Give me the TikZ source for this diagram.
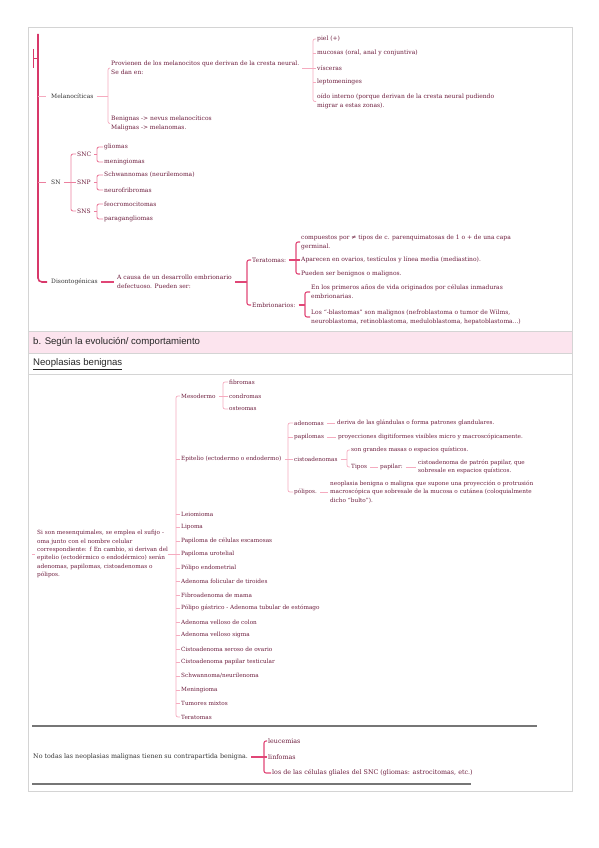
\documentclass[tikz,border=0pt]{standalone}
\usepackage{fontspec}
\setmainfont{DejaVu Serif}
\newfontfamily\bandfont{Liberation Sans}
\usetikzlibrary{calc}
\definecolor{TxtMaroon}{HTML}{6C1C3C}
\definecolor{TxtGray}{HTML}{333333}
\definecolor{PinkLight}{HTML}{F5ABBF}
\definecolor{PinkMid}{HTML}{EC809F}
\definecolor{PinkStrong}{HTML}{E04676}
\definecolor{PinkDeep}{HTML}{D8386A}
\definecolor{BandPink}{HTML}{FCE4EE}
\definecolor{FrameGray}{HTML}{D4D4D4}
\definecolor{RuleGray}{HTML}{767676}

\begin{document}
\begin{tikzpicture}[
    x=1pt, y=-1pt,
    every node/.style={inner sep=0pt, anchor=west, align=left, text=TxtMaroon, font=\fontsize{6.0}{8.8}\selectfont},
    lab/.style={text=TxtGray},
    benign/.style={font=\fontsize{5.75}{8.3}\selectfont},
    bottomtxt/.style={font=\fontsize{6.35}{9}\selectfont},
    bandtxt/.style={font=\bandfont\fontsize{9.6}{12}\selectfont, text=black!85},
    lnk/.style={draw=PinkLight, line width=0.7pt, rounded corners=2pt, shorten <=0.8pt, shorten >=0.8pt},
    lnkmid/.style={lnk, draw=PinkMid, line width=0.9pt},
    lnkstrong/.style={lnk, draw=PinkStrong, line width=1.1pt},
    up/.style={shorten <=3pt, shorten >=0pt},
    tick/.style={shorten <=0pt, shorten >=1pt},
    link/.style={shorten <=3pt, shorten >=2pt},
    mainbr/.style={draw=PinkDeep, line width=1.6pt, rounded corners=4pt},
    framerule/.style={draw=FrameGray, line width=0.7pt},
    seprule/.style={draw=RuleGray, line width=1.4pt}
  ]
    \useasboundingbox (0,0) rectangle (599,848);

    % frame and section band
    \fill[BandPink] (28,331) rectangle (572,353);
    \draw[framerule] (28,27) rectangle (572,791);
    \draw[framerule] (28,331) -- (572,331);
    \draw[framerule] (28,353) -- (572,353);
    \draw[framerule] (28,374) -- (572,374);

    % main bracket
    \coordinate (mtop) at (38,34);
    \coordinate (htop) at (33,49);
    \coordinate (hbot) at (33,68);
    \coordinate (hmid) at (33,58);
    \node[lab] (mel) at (51,96) {Melanocíticas};
    \node[lab] (sn) at (51,182) {SN};
    \node[lab] (dis) at (51,282) {Disontogénicas};
    \draw[mainbr, shorten >=4pt] (mtop) |- (dis.west);
    \draw[mainbr, line width=0.9pt] (htop) -- (hbot);
    \draw[mainbr, line width=0.9pt] (hmid) -- (hmid -| mtop);
    \draw[lnk, tick, shorten >=5pt] (mel.west -| mtop) -- (mel.west);
    \draw[lnkmid, tick, shorten >=5pt] (sn.west -| mtop) -- (sn.west);

    % Melanociticas
    \node (prov) at (111,68) {Provienen de los melanocitos que derivan de la cresta neural.\\Se dan en:};
    \node (benig) at (111,123.5) {Benignas -> nevus melanocíticos\\Malignas -> melanomas.};
    \coordinate (bmel) at (108,96);
    \draw[lnk, up] (mel.east) -- (bmel);
    \draw[lnk] (prov.west) -| (bmel) |- (benig.west);

    \node (piel) at (317,39) {piel (+)};
    \node (muc) at (317,53) {mucosas (oral, anal y conjuntiva)};
    \node (visc) at (317,68) {vísceras};
    \node (lepto) at (317,82) {leptomeninges};
    \node (oido) at (317,101.5) {oído interno (porque derivan de la cresta neural pudiendo\\migrar a estas zonas).};
    \coordinate (bpiel) at (313,68);
    \draw[lnk, up] (prov.east) -- (bpiel);
    \draw[lnk] (piel.west) -| (bpiel) |- (oido.west);
    \draw[lnk, tick] (muc.west -| bpiel) -- (muc.west);
    \draw[lnk, tick] (bpiel) -- (visc.west);
    \draw[lnk, tick] (lepto.west -| bpiel) -- (lepto.west);

    % SN
    \node (snc) at (77,154) {SNC};
    \node (snp) at (77,182) {SNP};
    \node (sns) at (77,211) {SNS};
    \coordinate (bsn) at (71,182);
    \draw[lnkmid, up] (sn.east) -- (bsn);
    \draw[lnkmid] (snc.west) -| (bsn) |- (sns.west);
    \draw[lnkmid, tick] (bsn) -- (snp.west);

    \node (glio) at (104,147) {gliomas};
    \node (meni) at (104,162) {meningiomas};
    \coordinate (bsnc) at (97,154);
    \draw[lnkmid, up] (snc.east) -- (bsnc);
    \draw[lnkmid] (glio.west) -| (bsnc) |- (meni.west);

    \node (schw) at (104,175) {Schwannomas (neurilemoma)};
    \node (neurof) at (104,190) {neurofribromas};
    \coordinate (bsnp) at (97,182);
    \draw[lnkmid, up] (snp.east) -- (bsnp);
    \draw[lnkmid] (schw.west) -| (bsnp) |- (neurof.west);

    \node (feo) at (104,204) {feocromocitomas};
    \node (para) at (104,219) {paragangliomas};
    \coordinate (bsns) at (97,211);
    \draw[lnkmid, up] (sns.east) -- (bsns);
    \draw[lnkmid] (feo.west) -| (bsns) |- (para.west);

    % Disontogenicas
    \node (acausa) at (117,282) {A causa de un desarrollo embrionario\\defectuoso. Pueden ser:};
    \draw[lnkstrong, up, shorten >=3pt] (dis.east) -- (acausa.west);
    \node (terat) at (252,260) {Teratomas:};
    \node (embr) at (252,305) {Embrionarios:};
    \coordinate (bdis) at (247,282);
    \draw[lnkstrong, up] (acausa.east) -- (bdis);
    \draw[lnkstrong] (terat.west) -| (bdis) |- (embr.west);

    \node (comp) at (301,242) {compuestos por ≠ tipos de c. parenquimatosas de 1 o + de una capa\\germinal.};
    \node (apar) at (301,260) {Aparecen en ovarios, testículos y línea media (mediastino).};
    \node (pued) at (301,274) {Pueden ser benignos o malignos.};
    \coordinate (bter) at (296,260);
    \draw[lnkstrong, up] (terat.east) -- (bter);
    \draw[lnkstrong] (comp.west) -| (bter) |- (pued.west);
    \draw[lnkstrong, tick] (bter) -- (apar.west);

    \node (enlos) at (311,292) {En los primeros años de vida originados por células inmaduras\\embrionarias.};
    \node (blast) at (311,317) {Los “-blastomas” son malignos (nefroblastoma o tumor de Wilms,\\neuroblastoma, retinoblastoma, meduloblastoma, hepatoblastoma...)};
    \coordinate (bemb) at (305,305);
    \draw[lnkstrong, up] (embr.east) -- (bemb);
    \draw[lnkstrong] (enlos.west) -| (bemb) |- (blast.west);

    % section headings
    \node[bandtxt] (evol) at (33,342) {b. Según la evolución/ comportamiento};
    \node[bandtxt] (neob) at (33,364) {\underline{Neoplasias benignas}};

    % benign tumours
    \node[benign, text width=131pt] (root) at (37,554) {Si son mesenquimales, se emplea el sufijo -\\oma junto con el nombre celular\\correspondiente: f En cambio, si derivan del\\epitelio (ectodérmico o endodérmico) serán\\adenomas, papilomas, cistoadenomas o\\pólipos.};
    \coordinate (rootin) at (32,554);
    \draw[lnk, tick, shorten >=2pt] (rootin) -- (root.west);

    \node[benign] (meso) at (181,396) {Mesodermo};
    \node[benign] (epit) at (181,459) {Epitelio (ectodermo o endodermo)};
    \node[benign] (leio) at (181,514) {Leiomioma};
    \node[benign] (lipo) at (181,527) {Lipoma};
    \node[benign] (papesc) at (181,541) {Papiloma de células escamosas};
    \node[benign] (papuro) at (181,554) {Papiloma urotelial};
    \node[benign] (polend) at (181,568) {Pólipo endometrial};
    \node[benign] (adefol) at (181,581) {Adenoma folicular de tiroides};
    \node[benign] (fibro) at (181,595) {Fibroadenoma de mama};
    \node[benign] (polgas) at (181,608) {Pólipo gástrico - Adenoma tubular de estómago};
    \node[benign] (adecol) at (181,622) {Adenoma velloso de colon};
    \node[benign] (adesig) at (181,635) {Adenoma velloso sigma};
    \node[benign] (cisser) at (181,649) {Cistoadenoma seroso de ovario};
    \node[benign] (cispap) at (181,662) {Cistoadenoma papilar testicular};
    \node[benign] (schwn) at (181,676) {Schwannoma/neurilenoma};
    \node[benign] (menin) at (181,690) {Meningioma};
    \node[benign] (tumix) at (181,703) {Tumores mixtos};
    \node[benign] (terato) at (181,717) {Teratomas};
    \coordinate (bben) at (176,554);
    \draw[lnk, up, shorten <=0pt] (root.east) -- (bben);
    \draw[lnk] (meso.west) -| (bben) |- (terato.west);
    \draw[lnk, tick] (epit.west -| bben) -- (epit.west);
    \draw[lnk, tick] (leio.west -| bben) -- (leio.west);
    \draw[lnk, tick] (lipo.west -| bben) -- (lipo.west);
    \draw[lnk, tick] (papesc.west -| bben) -- (papesc.west);
    \draw[lnk, tick] (bben) -- (papuro.west);
    \draw[lnk, tick] (polend.west -| bben) -- (polend.west);
    \draw[lnk, tick] (adefol.west -| bben) -- (adefol.west);
    \draw[lnk, tick] (fibro.west -| bben) -- (fibro.west);
    \draw[lnk, tick] (polgas.west -| bben) -- (polgas.west);
    \draw[lnk, tick] (adecol.west -| bben) -- (adecol.west);
    \draw[lnk, tick] (adesig.west -| bben) -- (adesig.west);
    \draw[lnk, tick] (cisser.west -| bben) -- (cisser.west);
    \draw[lnk, tick] (cispap.west -| bben) -- (cispap.west);
    \draw[lnk, tick] (schwn.west -| bben) -- (schwn.west);
    \draw[lnk, tick] (menin.west -| bben) -- (menin.west);
    \draw[lnk, tick] (tumix.west -| bben) -- (tumix.west);

    \node[benign] (fibr) at (229,382) {fibromas};
    \node[benign] (cond) at (229,396) {condromas};
    \node[benign] (oste) at (229,409) {osteomas};
    \coordinate (bmeso) at (223,396);
    \draw[lnk, up] (meso.east) -- (bmeso);
    \draw[lnk] (fibr.west) -| (bmeso) |- (oste.west);
    \draw[lnk, tick] (bmeso) -- (cond.west);

    \node[benign] (aden) at (294,423) {adenomas};
    \node[benign] (papi) at (294,437) {papilomas};
    \node[benign] (cist) at (294,459) {cistoadenomas};
    \node[benign] (poli) at (294,492) {pólipos.};
    \coordinate (bepit) at (288,459);
    \draw[lnk, up] (epit.east) -- (bepit);
    \draw[lnk] (aden.west) -| (bepit) |- (poli.west);
    \draw[lnk, tick] (papi.west -| bepit) -- (papi.west);
    \draw[lnk, tick] (bepit) -- (cist.west);

    \node[benign] (deriv) at (337,423) {deriva de las glándulas o forma patrones glandulares.};
    \node[benign] (proy) at (338,437) {proyecciones digitiformes visibles micro y macroscópicamente.};
    \draw[lnk, link] (aden.east) -- (deriv.west);
    \draw[lnk, link] (papi.east) -- (proy.west);

    \node[benign] (grand) at (351,450) {son grandes masas o espacios quísticos.};
    \node[benign] (tipos) at (351,467) {Tipos};
    \coordinate (bcist) at (347,459);
    \draw[lnk, up] (cist.east) -- (bcist);
    \draw[lnk] (grand.west) -| (bcist) |- (tipos.west);
    \node[benign] (papil) at (380,467) {papilar:};
    \node[benign] (cpat) at (418,467) {cistoadenoma de patrón papilar, que\\sobresale en espacios quísticos.};
    \draw[lnk, link] (tipos.east) -- (papil.west);
    \draw[lnk, link] (papil.east) -- (cpat.west);

    \node[benign] (neopl) at (330,492) {neoplasia benigna o maligna que supone una proyección o protrusión\\macroscópica que sobresale de la mucosa o cutánea (coloquialmente\\dicho “bulto”).};
    \draw[lnk, link] (poli.east) -- (neopl.west);

    % malignant without benign counterpart
    \draw[seprule] (32,726) -- (537,726);
    \draw[seprule] (32,784) -- (471,784);
    \node[lab, bottomtxt] (notodas) at (33,757) {No todas las neoplasias malignas tienen su contrapartida benigna.};
    \node[bottomtxt] (leuc) at (268,741) {leucemias};
    \node[bottomtxt] (linf) at (268,757) {linfomas};
    \node[bottomtxt] (glial) at (272,773) {los de las células gliales del SNC (gliomas: astrocitomas, etc.)};
    \coordinate (bnot) at (264,757);
    \draw[lnkstrong, up] (notodas.east) -- (bnot);
    \draw[lnkstrong] (leuc.west) -| (bnot) |- (glial.west);
    \draw[lnkstrong, tick] (bnot) -- (linf.west);
\end{tikzpicture}
\end{document}
